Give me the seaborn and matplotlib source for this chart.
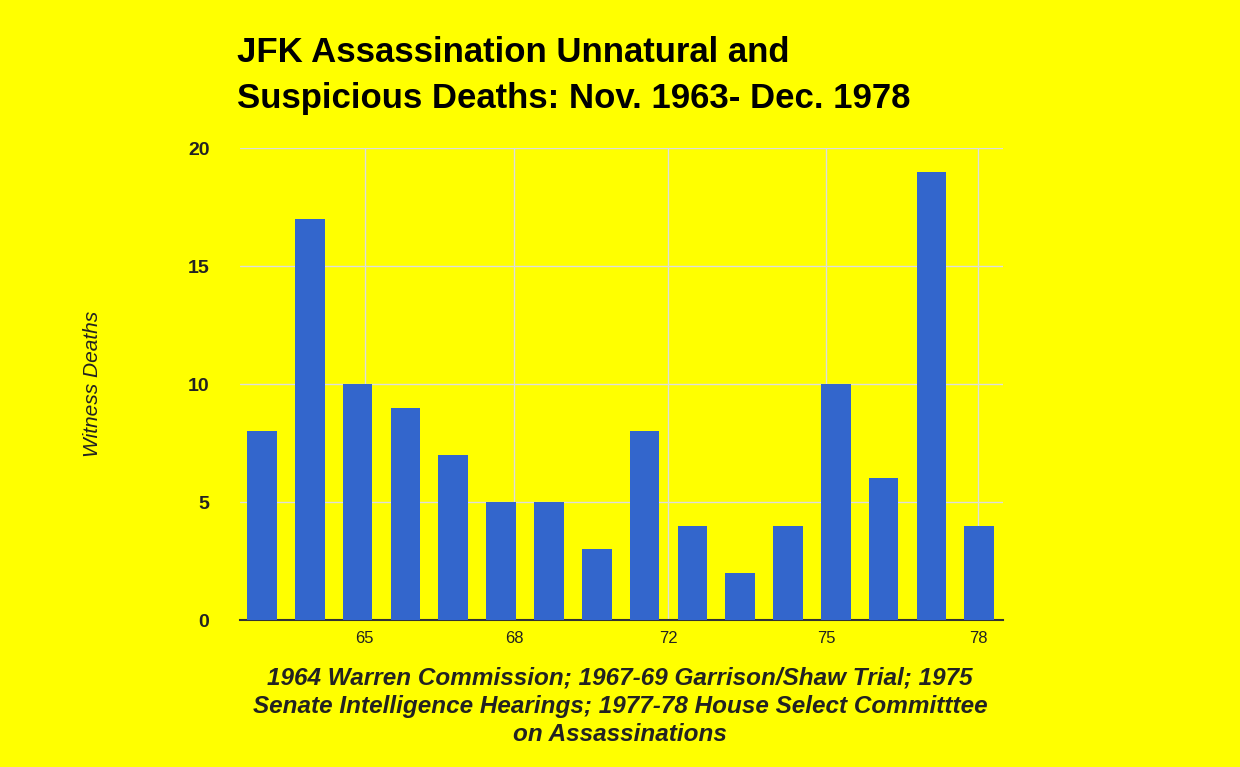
import matplotlib
matplotlib.use("Agg")
import matplotlib.pyplot as plt
import seaborn as sns
import pandas as pd

years = list(range(1963, 1979))
deaths = [8, 17, 10, 9, 7, 5, 5, 3, 8, 4, 2, 4, 10, 6, 19, 4]
tick_pos = [1965.15, 1968.27, 1971.5, 1974.8, 1977.98]
tick_labels = ["65", "68", "72", "75", "78"]

sns.set_style("whitegrid")
plt.rcParams['font.family'] = ['Liberation Sans', 'DejaVu Sans']

fig = plt.figure(figsize=(12.4, 7.67), dpi=100, facecolor="#ffff00")
ax = fig.add_axes([0.1935, 0.1916, 0.6155, 0.6154])
ax.set_facecolor("#ffff00")

df = pd.DataFrame({"year": years, "deaths": deaths})
sns.barplot(data=df, x="year", y="deaths", native_scale=True, color="#3366cc",
            saturation=1, width=0.62, linewidth=0, ax=ax, zorder=3)

ax.set_xlim(1962.54, 1978.5)
ax.set_ylim(0, 20)
ax.set_yticks([0, 5, 10, 15, 20])
ax.set_xticks(tick_pos)
ax.set_xticklabels(tick_labels, fontsize=12, color="#222222")
ax.tick_params(axis="y", labelsize=14, length=0, pad=22, labelcolor="#222222")
ax.tick_params(axis="x", length=0, pad=8)
for lab in ax.get_yticklabels():
    lab.set_fontweight("bold")
ax.grid(True, color="#dddddd", linewidth=1)
for s in ["top", "right", "left"]:
    ax.spines[s].set_visible(False)
ax.spines["bottom"].set_color("#333333")
ax.spines["bottom"].set_linewidth(1.5)

ax.set_ylabel("")
ax.set_xlabel("")
fig.text(0.075, 0.5, "Witness Deaths", rotation=90, fontsize=15, style="italic",
         ha="center", va="center", color="#222222")
fig.text(0.5, 0.079, "1964 Warren Commission; 1967-69 Garrison/Shaw Trial; 1975\n"
         "Senate Intelligence Hearings; 1977-78 House Select Committtee\n"
         "on Assassinations", fontsize=17.5, style="italic", fontweight="bold",
         ha="center", va="center", linespacing=1.3, color="#222222")
fig.text(0.191, 0.902, "JFK Assassination Unnatural and\nSuspicious Deaths: Nov. 1963- Dec. 1978",
         fontsize=25, fontweight="bold", ha="left", va="center", linespacing=1.5,
         color="black")

fig.savefig("out.png", dpi=100, facecolor=fig.get_facecolor())
